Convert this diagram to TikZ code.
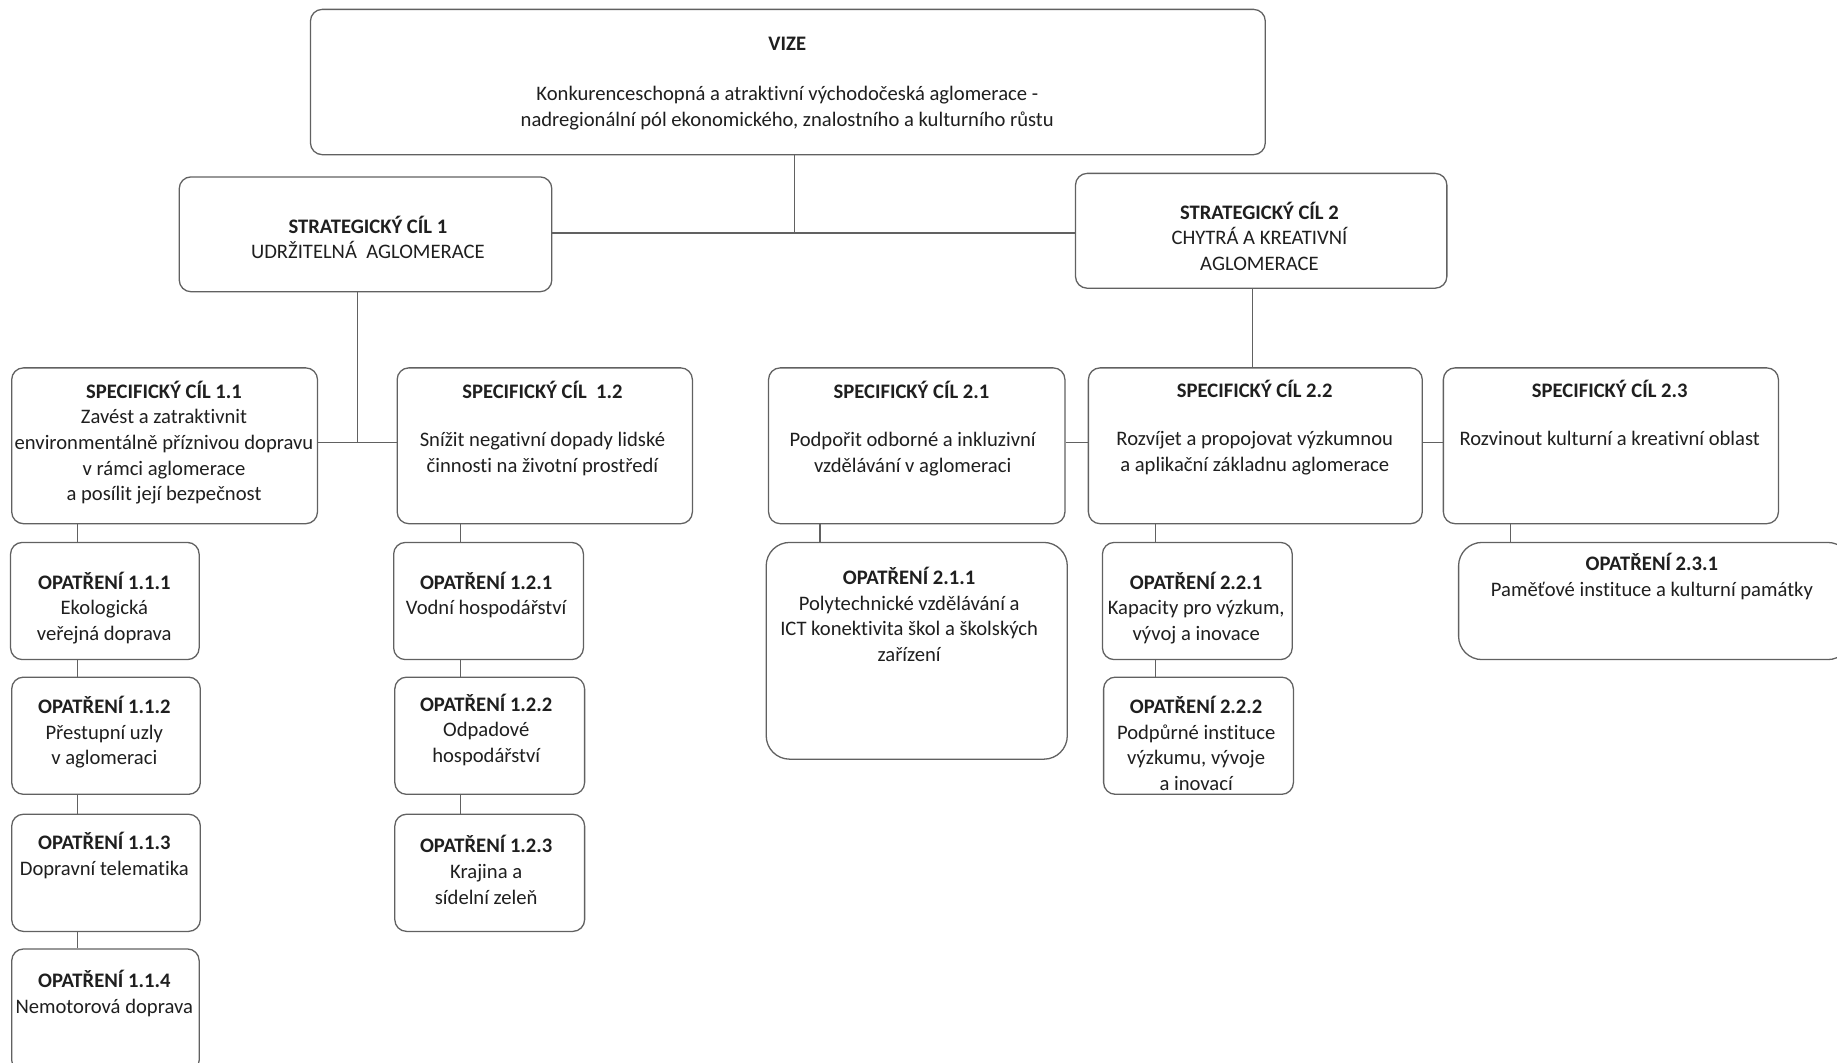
\documentclass[tikz,border=0pt]{standalone}
\usepackage{fontspec}
\setmainfont{Carlito}[Ligatures=NoCommon]
\usetikzlibrary{fit}
\newcommand\fl{\rule{0pt}{13pt}}
\tikzset{
 box/.style={draw=black!62, line width=1.1pt, rounded corners=10pt, inner sep=0pt},
 bigbox/.style={box, rounded corners=20pt},
 txt/.style={anchor=north, inner sep=0pt, align=center, text=black!88, font=\fontsize{17.6}{21.9}\selectfont, yshift=8pt},
 conn/.style={draw=black!62, line width=1.1pt},
}
\begin{document}
\begin{tikzpicture}[x=1pt,y=1pt]
\useasboundingbox (0,0) rectangle (1568,-907);
\fill[white] (0,0) rectangle (1568,-907);
% boxes
\node[box, fit={(265,-8) (1080,-132)}] (vize) {};
\node[box, fit={(153,-151) (471,-249)}] (sc1) {};
\node[box, fit={(918,-148) (1235,-246)}] (sc2) {};
\node[box, fit={(10,-314) (271,-447)}] (sp11) {};
\node[box, fit={(339,-314) (591,-447)}] (sp12) {};
\node[box, fit={(656,-314) (909,-447)}] (sp21) {};
\node[box, fit={(929,-314) (1214,-447)}] (sp22) {};
\node[box, fit={(1232,-314) (1518,-447)}] (sp23) {};
\node[box, fit={(9,-463) (170,-563)}] (o111) {};
\node[box, fit={(10,-578) (171,-678)}] (o112) {};
\node[box, fit={(10,-695) (171,-795)}] (o113) {};
\node[box, fit={(10,-810) (170,-915)}] (o114) {};
\node[box, fit={(336,-463) (498,-563)}] (o121) {};
\node[box, fit={(337,-578) (499,-678)}] (o122) {};
\node[box, fit={(337,-695) (499,-795)}] (o123) {};
\node[bigbox, fit={(654,-463) (911,-648)}] (o211) {};
\node[box, fit={(941,-463) (1103,-563)}] (o221) {};
\node[box, fit={(942,-578) (1104,-678)}] (o222) {};
\node[bigbox, fit={(1245,-463) (1580,-563)}] (o231) {};
% texts
\node[txt] (tvize) at (672,-38) {\fl\textbf{VIZE}};
\node[txt] (tvize2) at (672,-81) {\fl Konkurenceschopná a atraktivní východočeská aglomerace -\\nadregionální pól ekonomického, znalostního a kulturního růstu};
\node[txt] (tsc1) at (314,-192) {\fl\textbf{STRATEGICKÝ CÍL 1}\\UDRŽITELNÁ\ \ AGLOMERACE};
\node[txt] (tsc2) at (1075,-180) {\fl\textbf{STRATEGICKÝ CÍL 2}\\CHYTRÁ A KREATIVNÍ\\AGLOMERACE};
\node[txt] (tsp11) at (140,-333) {\fl\textbf{SPECIFICKÝ CÍL 1.1}\\Zavést a zatraktivnit\\environmentálně příznivou dopravu\\v rámci aglomerace\\a posílit její bezpečnost};
\node[txt] (tsp12a) at (463,-333) {\fl\textbf{SPECIFICKÝ CÍL\ \ 1.2}};
\node[txt] (tsp12b) at (463,-376) {\fl Snížit negativní dopady lidské\\činnosti na životní prostředí};
\node[txt] (tsp21a) at (778,-333) {\fl\textbf{SPECIFICKÝ CÍL 2.1}};
\node[txt] (tsp21b) at (779,-376) {\fl Podpořit odborné a inkluzivní\\vzdělávání v aglomeraci};
\node[txt] (tsp22a) at (1071,-332) {\fl\textbf{SPECIFICKÝ CÍL 2.2}};
\node[txt] (tsp22b) at (1071,-375) {\fl Rozvíjet a propojovat výzkumnou\\a aplikační základnu aglomerace};
\node[txt] (tsp23a) at (1374,-332) {\fl\textbf{SPECIFICKÝ CÍL 2.3}};
\node[txt] (tsp23b) at (1374,-375) {\fl Rozvinout kulturní a kreativní oblast};
\node[txt] (to111) at (89,-496) {\fl\textbf{OPATŘENÍ 1.1.1}\\Ekologická\\veřejná doprava};
\node[txt] (to112) at (89,-602) {\fl\textbf{OPATŘENÍ 1.1.2}\\Přestupní uzly\\v aglomeraci};
\node[txt] (to113) at (89,-718) {\fl\textbf{OPATŘENÍ 1.1.3}\\Dopravní telematika};
\node[txt] (to114) at (89,-836) {\fl\textbf{OPATŘENÍ 1.1.4}\\Nemotorová doprava};
\node[txt] (to121) at (415,-496) {\fl\textbf{OPATŘENÍ 1.2.1}\\Vodní hospodářství};
\node[txt] (to122) at (415,-600) {\fl\textbf{OPATŘENÍ 1.2.2}\\Odpadové\\hospodářství};
\node[txt] (to123) at (415,-721) {\fl\textbf{OPATŘENÍ 1.2.3}\\Krajina a\\sídelní zeleň};
\node[txt] (to211) at (776,-492) {\fl\textbf{OPATŘENÍ 2.1.1}\\Polytechnické vzdělávání a\\ICT konektivita škol a školských\\zařízení};
\node[txt] (to221) at (1021,-496) {\fl\textbf{OPATŘENÍ 2.2.1}\\Kapacity pro výzkum,\\vývoj a inovace};
\node[txt] (to222) at (1021,-602) {\fl\textbf{OPATŘENÍ 2.2.2}\\Podpůrné instituce\\výzkumu, vývoje\\a inovací};
\node[txt] (to231) at (1410,-480) {\fl\textbf{OPATŘENÍ 2.3.1}\\Paměťové instituce a kulturní památky};
% connectors
\coordinate (j0) at (678,-199);
\draw[conn] (vize.south -| j0) -- (j0);
\draw[conn] (sc1.east |- j0) -- (sc2.west |- j0);
\coordinate (j1) at (305,-378);
\draw[conn] (sc1.south -| j1) -- (j1);
\draw[conn] (sp11.east |- j1) -- (sp12.west |- j1);
\coordinate (j2) at (1069,-378);
\draw[conn] (sc2.south -| j2) -- (sp22.north -| j2);
\draw[conn] (sp21.east |- j2) -- (sp22.west |- j2);
\draw[conn] (sp22.east |- j2) -- (sp23.west |- j2);
\coordinate (c1) at (66,0);
\coordinate (c2) at (393,0);
\coordinate (c3) at (700,0);
\coordinate (c4) at (986,0);
\coordinate (c5) at (1289,0);
\draw[conn] (sp11.south -| c1) -- (o111.north -| c1);
\draw[conn] (o111.south -| c1) -- (o112.north -| c1);
\draw[conn] (o112.south -| c1) -- (o113.north -| c1);
\draw[conn] (o113.south -| c1) -- (o114.north -| c1);
\draw[conn] (sp12.south -| c2) -- (o121.north -| c2);
\draw[conn] (o121.south -| c2) -- (o122.north -| c2);
\draw[conn] (o122.south -| c2) -- (o123.north -| c2);
\draw[conn] (sp21.south -| c3) -- (o211.north -| c3);
\draw[conn] (sp22.south -| c4) -- (o221.north -| c4);
\draw[conn] (o221.south -| c4) -- (o222.north -| c4);
\draw[conn] (sp23.south -| c5) -- (o231.north -| c5);
\end{tikzpicture}
\end{document}
